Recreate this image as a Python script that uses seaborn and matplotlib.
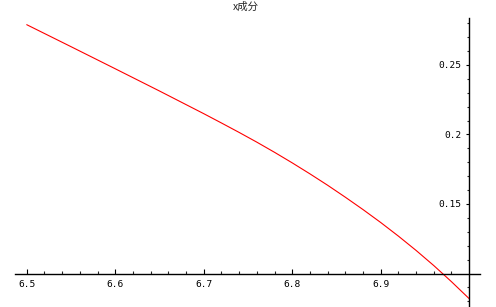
import matplotlib
matplotlib.use("Agg")
import matplotlib.pyplot as plt
import seaborn as sns
import pandas as pd
from matplotlib.ticker import FixedLocator

x_vals = [6.50, 6.55, 6.60, 6.65, 6.70, 6.72, 6.74, 6.76, 6.78, 6.80, 6.82, 6.84,
          6.86, 6.88, 6.90, 6.92, 6.94, 6.96, 6.98, 7.00]
y_vals = [0.2790, 0.2632, 0.2473, 0.2313, 0.2150, 0.2083, 0.2015, 0.1945, 0.1872,
          0.1796, 0.1717, 0.1635, 0.1549, 0.1460, 0.1367, 0.1269, 0.1166, 0.1057,
          0.0941, 0.0819]
x_ticks = [6.5, 6.6, 6.7, 6.8, 6.9]
x_tick_labels = ["6.5", "6.6", "6.7", "6.8", "6.9"]
x_minor = [6.52, 6.54, 6.56, 6.58, 6.62, 6.64, 6.66, 6.68, 6.72, 6.74, 6.76, 6.78,
           6.82, 6.84, 6.86, 6.88, 6.92, 6.94, 6.96, 6.98]
y_ticks = [0.15, 0.2, 0.25]
y_tick_labels = ["0.15", "0.2", "0.25"]
y_minor = [0.08, 0.09, 0.11, 0.12, 0.13, 0.14, 0.16, 0.17, 0.18, 0.19,
           0.21, 0.22, 0.23, 0.24, 0.26, 0.27, 0.28]
title = "x成分"

sns.set_style("white")
plt.rcParams['font.family'] = ['DejaVu Sans Mono', 'Noto Sans CJK SC']

df = pd.DataFrame({"x": x_vals, "y": y_vals})

fig = plt.figure(figsize=(4.96, 3.07), dpi=100)
ax = fig.add_axes([0, 0, 1, 1])
sns.lineplot(data=df, x="x", y="y", ax=ax, color="red", linewidth=0.8)

ax.set_xlim(6.4698, 7.0303)
ax.set_ylim(0.0759, 0.29676)

for s in ["top", "right"]:
    ax.spines[s].set_visible(False)
ax.spines["left"].set_position(("data", 7.0))
ax.spines["bottom"].set_position(("data", 0.1))
ax.spines["left"].set_bounds(0.0759, 0.284)
ax.spines["bottom"].set_bounds(6.4868, 7.012)
for s in ["left", "bottom"]:
    ax.spines[s].set_color("black")
    ax.spines[s].set_linewidth(1.0)

ax.xaxis.set_major_locator(FixedLocator(x_ticks))
ax.set_xticklabels(x_tick_labels)
ax.xaxis.set_minor_locator(FixedLocator(x_minor))
ax.yaxis.set_major_locator(FixedLocator(y_ticks))
ax.set_yticklabels(y_tick_labels)
ax.yaxis.set_minor_locator(FixedLocator(y_minor))

ax.tick_params(axis="x", which="major", direction="in", length=3.5, width=0.8, pad=5,
               labelsize=6.8, colors="black", bottom=True)
ax.tick_params(axis="x", which="minor", direction="in", length=2, width=0.8, bottom=True)
ax.tick_params(axis="y", which="major", direction="out", length=2.5, width=0.8, pad=3,
               labelsize=6.8, colors="black", left=True)
ax.tick_params(axis="y", which="minor", direction="out", length=1.5, width=0.8, left=True)

ax.set_xlabel("")
ax.set_ylabel("")
fig.text(0.496, 0.995, title, ha="center", va="top", fontsize=7.5,
         family=['Noto Sans CJK SC', 'DejaVu Sans'])

fig.savefig("out.png", dpi=100, facecolor="white")
